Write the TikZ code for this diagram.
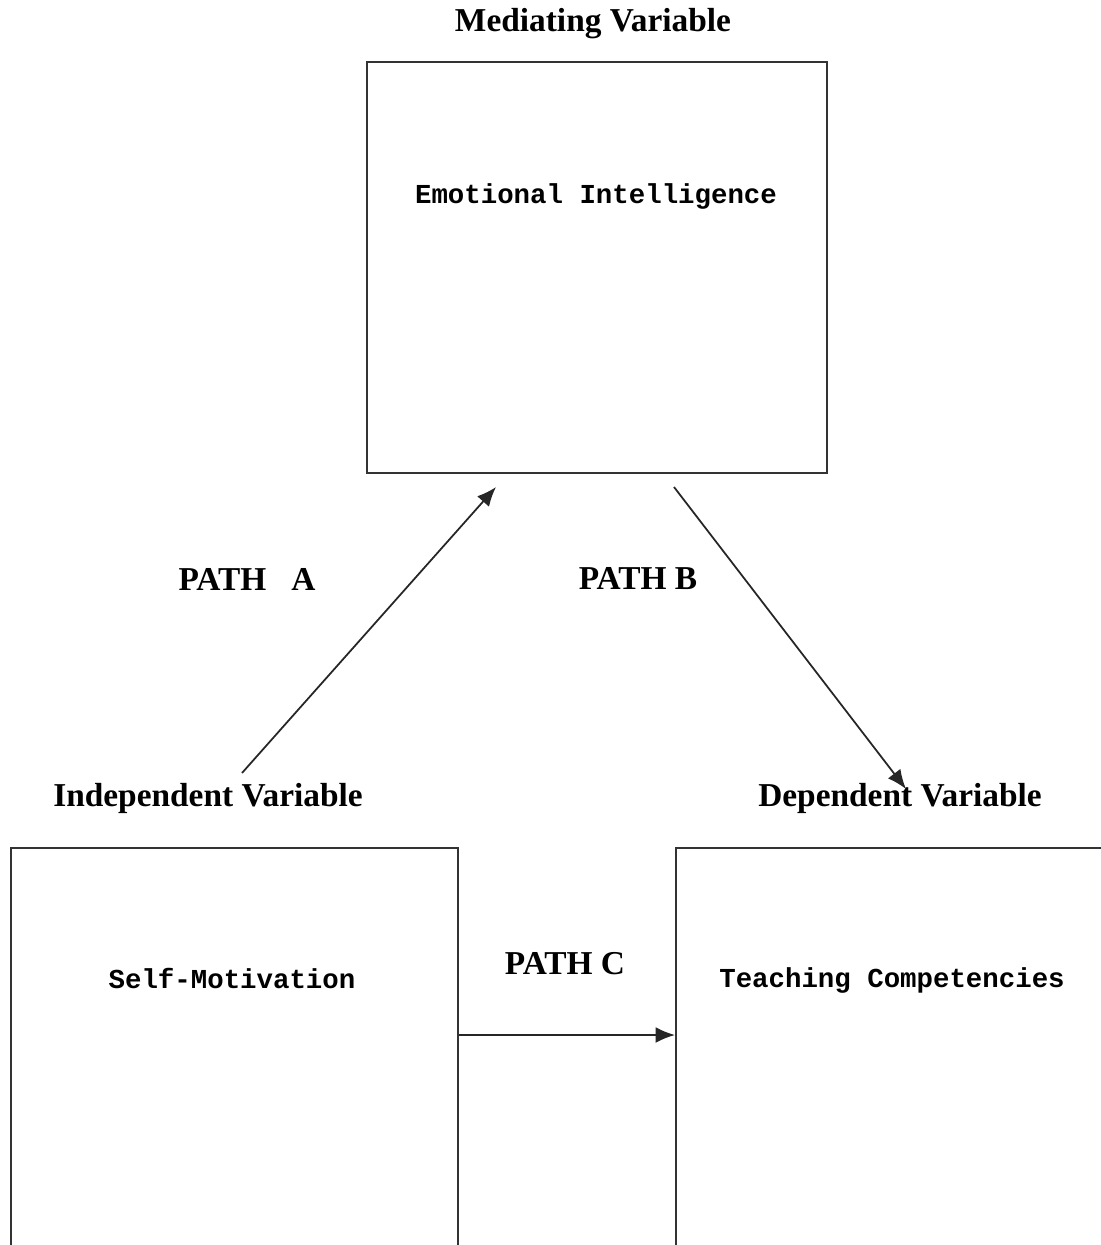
\documentclass[tikz,border=0pt]{standalone}
\usepackage{fontspec}
\setmainfont{Liberation Serif}
\newfontfamily\boxfont{Liberation Mono}
\usetikzlibrary{arrows.meta}

\begin{document}
\begin{tikzpicture}[x=0.02cm,y=-0.02cm,
	heading/.style={font=\fontsize{19}{22}\selectfont\bfseries},
	boxtext/.style={font=\boxfont\fontsize{15.6}{18}\selectfont\bfseries},
	varbox/.style={draw=black!80,line width=1.1pt,inner sep=0pt,anchor=north west},
	pathline/.style={line width=1pt,color=black!85,-{Latex[length=11pt,width=9pt]}}]
	\useasboundingbox (0,0) rectangle (1101,1245);
	\clip (0,0) rectangle (1101,1245);
	
	\node[varbox,minimum width=9.2cm,minimum height=8.22cm] (ei) at (366,61) {};
	\node[varbox,minimum width=8.94cm,minimum height=10cm] (sm) at (10,847) {};
	\node[varbox,minimum width=10cm,minimum height=10cm] (tc) at (675,847) {};
	
	\node[boxtext] (eitxt) at (596,196) {Emotional Intelligence};
	\node[boxtext] (smtxt) at (232,978) {Self-Motivation};
	\node[boxtext] (tctxt) at (892,980) {Teaching Competencies};
	
	\node[heading] (med) at (593,24) {Mediating Variable};
	\node[heading] (ind) at (208,798) {Independent Variable};
	\node[heading] (dep) at (900,798) {Dependent Variable};
	\node[heading] (pa) at (247,579) {PATH\ \ \ A};
	\node[heading] (pb) at (638,579) {PATH B};
	\node[heading] (pc) at (565,964) {PATH C};
	
	\coordinate (a0) at (242,773); \coordinate (a1) at (496,487);
	\coordinate (b0) at (674,487); \coordinate (b1) at (906,789);
	\draw[pathline] (a0) -- (a1);
	\draw[pathline] (b0) -- (b1);
	\draw[pathline] (sm.east |- 0,1035) -- (tc.west |- 0,1035);
\end{tikzpicture}
\end{document}
